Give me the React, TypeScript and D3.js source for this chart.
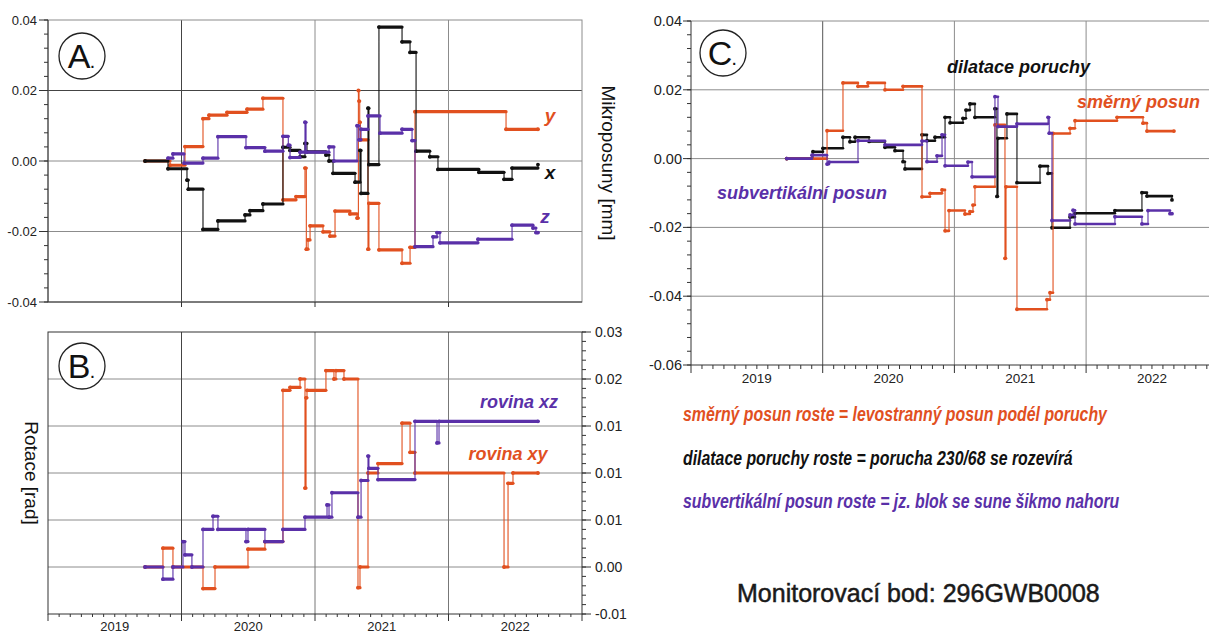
import React from "react";
import * as d3 from "d3";

type P = [number, number];

// ---------- tick labels ----------
const yearLabels = ["2019", "2020", "2021", "2022"];
const yearBounds = [2019, 2020, 2021, 2022, 2023];
const aTicks = [0.04, 0.02, 0, -0.02, -0.04];
const aTickLabels = ["0.04", "0.02", "0.00", "-0.02", "-0.04"];
const bTicks = [0.025, 0.02, 0.015, 0.01, 0.005, 0, -0.005];
const bTickLabels = ["0.03", "0.02", "0.01", "0.01", "0.01", "0.00", "-0.01"];
const cTicks = [0.04, 0.02, 0, -0.02, -0.04, -0.06];
const cTickLabels = ["0.04", "0.02", "0.00", "-0.02", "-0.04", "-0.06"];

// ---------- Panel A: micro-displacements x, y, z ----------
const aY: P[] = [
  [2019.727, 0], [2019.914, -0.0012], [2020.026, 0.0041], [2020.161, 0.012], [2020.206, 0.013],
  [2020.341, 0.0138], [2020.491, 0.0147], [2020.61, 0.0178], [2020.76, -0.011], [2020.858, -0.0101],
  [2020.925, -0.002], [2020.935, -0.025], [2020.948, -0.0224], [2020.963, -0.0184], [2021.06, -0.0201],
  [2021.112, -0.0213], [2021.15, -0.0142], [2021.262, -0.015], [2021.315, -0.0162], [2021.325, 0.02],
  [2021.33, 0.017], [2021.335, 0.011], [2021.34, 0.006], [2021.397, -0.025], [2021.404, -0.012],
  [2021.479, -0.0252], [2021.652, -0.029], [2021.712, -0.0245], [2021.749, 0.014], [2022.431, 0.009],
  [2022.67, 0.009],
];
const aX: P[] = [
  [2019.727, 0], [2019.899, -0.0022], [2020.041, -0.0054], [2020.051, -0.008], [2020.161, -0.0194],
  [2020.273, -0.017], [2020.476, -0.0153], [2020.513, -0.0141], [2020.61, -0.0122], [2020.76, 0.0039],
  [2020.813, 0.003], [2020.888, 0.0012], [2020.925, 0.005], [2020.94, 0.0026], [2021.082, 0.0017],
  [2021.105, 0], [2021.135, -0.0035], [2021.3, -0.006], [2021.337, 0.003], [2021.345, -0.0092],
  [2021.397, 0.015], [2021.404, -0.001], [2021.479, 0.038], [2021.652, 0.0338], [2021.712, 0.0308],
  [2021.757, 0.0028], [2021.86, 0.0012], [2021.921, -0.0024], [2022.228, -0.0032], [2022.416, -0.0052],
  [2022.476, -0.002], [2022.67, -0.001],
];
const aZ: P[] = [
  [2019.899, 0.0008], [2019.936, 0.002], [2020.019, -0.0006], [2020.161, 0.0008], [2020.273, 0.0069],
  [2020.483, 0.0038], [2020.625, 0.0028], [2020.76, 0.007], [2020.8, 0.0045], [2020.813, 0.001],
  [2020.888, 0.0025], [2020.925, 0.011], [2020.933, 0.0025], [2021.105, 0.004], [2021.142, 0],
  [2021.315, 0.01], [2021.33, 0.006], [2021.345, 0.009], [2021.397, 0.0128], [2021.487, 0.0079],
  [2021.652, 0.009], [2021.727, 0.0058], [2021.749, -0.0243], [2021.884, -0.0215], [2021.914, -0.0203],
  [2021.936, -0.0232], [2022.221, -0.0222], [2022.476, -0.0182], [2022.633, -0.019], [2022.655, -0.0203],
  [2022.67, -0.0203],
];

// ---------- Panel B: rotations ----------
const bXY: P[] = [
  [2019.727, 0], [2019.861, 0.002], [2019.936, 0], [2020.161, -0.0023], [2020.251, 0],
  [2020.498, 0.0019], [2020.625, 0.0027], [2020.76, 0.0188], [2020.813, 0.0191], [2020.888, 0.02],
  [2020.925, 0.0084], [2020.933, 0.018], [2020.94, 0.0188], [2021.082, 0.0209], [2021.142, 0.02],
  [2021.157, 0.0209], [2021.217, 0.02], [2021.322, -0.0022], [2021.337, 0], [2021.397, 0.01],
  [2021.472, 0.011], [2021.652, 0.0153], [2021.712, 0.0122], [2021.749, 0.01], [2022.416, 0],
  [2022.446, 0.0089], [2022.483, 0.01], [2022.67, 0.01],
];
const bXZ: P[] = [
  [2019.727, 0], [2019.861, -0.0013], [2019.936, 0], [2020.011, 0.0027], [2020.026, 0.0013],
  [2020.078, 0], [2020.161, 0.004], [2020.236, 0.0054], [2020.273, 0.004], [2020.483, 0.0027],
  [2020.498, 0.004], [2020.625, 0.0027], [2020.76, 0.004], [2020.925, 0.0053], [2021.09, 0.0066],
  [2021.105, 0.0053], [2021.127, 0.0079], [2021.322, 0.0053], [2021.345, 0.0092], [2021.397, 0.0118],
  [2021.404, 0.0105], [2021.472, 0.0093], [2021.749, 0.0155], [2021.914, 0.0132], [2021.929, 0.0155],
  [2022.67, 0.0155],
];

// ---------- Panel C: fault components ----------
const cStrike: P[] = [
  [2019.727, 0], [2020.033, 0.0081], [2020.154, 0.022], [2020.268, 0.021], [2020.344, 0.022],
  [2020.473, 0.02], [2020.61, 0.021], [2020.754, -0.0111], [2020.815, -0.0101], [2020.906, -0.0091],
  [2020.929, -0.021], [2020.959, -0.0151], [2021.08, -0.0161], [2021.118, -0.0154], [2021.141, -0.0135],
  [2021.156, -0.0082], [2021.308, 0.0098], [2021.384, -0.029], [2021.392, -0.0082], [2021.475, -0.0438],
  [2021.703, -0.041], [2021.726, -0.039], [2021.749, 0.0073], [2021.878, 0.0088], [2021.916, 0.011],
  [2022.235, 0.012], [2022.432, 0.0103], [2022.462, 0.008], [2022.667, 0.008],
];
const cDilat: P[] = [
  [2019.727, 0], [2019.926, 0.002], [2020.002, 0.003], [2020.154, 0.0062], [2020.207, 0.0049],
  [2020.246, 0.0062], [2020.352, 0.005], [2020.473, 0.0033], [2020.549, 0.0023], [2020.61, -0.0009],
  [2020.625, -0.003], [2020.754, 0.0069], [2020.792, 0.0052], [2020.853, 0.0062], [2020.929, 0.012],
  [2020.967, 0.0104], [2021.065, 0.0117], [2021.088, 0.0141], [2021.118, 0.0159], [2021.156, 0.012],
  [2021.308, 0.0145], [2021.323, -0.011], [2021.331, 0.0059], [2021.399, 0.013], [2021.475, -0.007],
  [2021.65, -0.0022], [2021.711, -0.0043], [2021.741, -0.0201], [2021.878, -0.017], [2021.916, -0.0159],
  [2022.219, -0.0151], [2022.424, -0.0099], [2022.462, -0.0109], [2022.652, -0.012],
];
const cSubv: P[] = [
  [2019.727, 0], [2019.919, 0.001], [2020.033, -0.0016], [2020.048, -0.001], [2020.268, 0.0052],
  [2020.473, 0.004], [2020.754, 0.0051], [2020.792, -0.0009], [2020.868, 0.0008], [2020.906, 0.0069],
  [2020.929, -0.0021], [2021.103, -0.001], [2021.134, -0.0053], [2021.308, 0.018], [2021.331, 0.0093],
  [2021.475, 0.0101], [2021.711, 0.012], [2021.72, 0.0074], [2021.741, -0.018], [2021.878, -0.0164],
  [2021.901, -0.015], [2021.916, -0.019], [2022.219, -0.0169], [2022.424, -0.019], [2022.47, -0.0151],
  [2022.637, -0.016], [2022.652, -0.016],
];

const ORANGE = "#e1501f";
const PURPLE = "#5a30a8";
const BLACK = "#111111";
const GRID = "#8c8c8c";
const AXIS = "#333333";
const FONT = "'Liberation Sans', Arial, Helvetica, sans-serif";

type Sc = d3.ScaleLinear<number, number>;

function Series({ data, x, y, color, thick }: { data: P[]; x: Sc; y: Sc; color: string; thick: number }) {
  const line = d3.line<P>().x((d) => x(d[0])).y((d) => y(d[1])).curve(d3.curveStepAfter);
  const segs = data.slice(0, -1).map((d, i) => [d, data[i + 1]] as [P, P]);
  return (
    <g>
      <path d={line(data) || ""} fill="none" stroke={color} strokeWidth={1.1} />
      {segs.map(([a, b], i) => (
        <line key={i} x1={x(a[0])} x2={x(b[0])} y1={y(a[1])} y2={y(a[1])} stroke={color} strokeWidth={thick} strokeLinecap="round" />
      ))}
      {data.map((d, i) => (
        <circle key={"c" + i} cx={x(d[0])} cy={y(d[1])} r={1.9} fill={color} />
      ))}
    </g>
  );
}

function Badge({ cx, cy, letter }: { cx: number; cy: number; letter: string }) {
  return (
    <g>
      <circle cx={cx} cy={cy} r={23} fill="white" stroke="#222" strokeWidth={1.3} />
      <text x={cx - 1} y={cy + 12} textAnchor="middle" fontFamily={FONT} fontSize={34} fill="#111">
        {letter}
        <tspan fontSize={14} fontWeight="bold">.</tspan>
      </text>
    </g>
  );
}

function Note({ x, y, color, children }: { x: number; y: number; color: string; children: string }) {
  return (
    <text transform={`translate(${x},${y}) scale(0.793,1)`} fontFamily={FONT} fontWeight="bold" fontStyle="italic" fontSize={20} fill={color}>
      {children}
    </text>
  );
}

export default function App() {
  const xAB = d3.scaleLinear().domain([2019, 2023]).range([48, 582]);
  const yA = d3.scaleLinear().domain([-0.04, 0.04]).range([302, 20]);
  const yB = d3.scaleLinear().domain([-0.005, 0.025]).range([614, 332]);
  const xC = d3.scaleLinear().domain([2019, 2023]).range([691, 1217.8]);
  const yC = d3.scaleLinear().domain([-0.06, 0.04]).range([365, 21]);

  const months = d3.range(0, 49).map((m) => 2019 + m / 12);
  const minorA = d3.range(-0.04, 0.0401, 0.004);
  const minorB = d3.range(-0.005, 0.02501, 0.001);
  const minorC = d3.range(-0.06, 0.0401, 0.004);
  const innerYears = [2020, 2021, 2022];

  return (
    <svg width={1209} height={633} style={{ position: "absolute", left: 0, top: 0, background: "white" }}>
      <rect x={0} y={0} width={1209} height={633} fill="white" />

      {/* ================= Panel A ================= */}
      <g>
        {aTicks.slice(1, -1).map((t) => (
          <line key={t} x1={48} x2={582} y1={yA(t)} y2={yA(t)} stroke={t === 0.02 ? "#444" : GRID} strokeWidth={1} />
        ))}
        {innerYears.map((yr) => (
          <line key={yr} x1={xAB(yr)} x2={xAB(yr)} y1={20} y2={302} stroke={yr === 2020 ? "#444" : GRID} strokeWidth={1} />
        ))}
        <rect x={48} y={20} width={534} height={282} fill="none" stroke={GRID} strokeWidth={1} />
        <line x1={48} x2={48} y1={20} y2={302} stroke={AXIS} />
        <line x1={48} x2={582} y1={302} y2={302} stroke={AXIS} />
        {minorA.map((t, i) => (
          <line key={i} x1={44} x2={48} y1={yA(t)} y2={yA(t)} stroke={AXIS} />
        ))}
        {aTicks.map((t, i) => (
          <g key={t}>
            <line x1={39} x2={48} y1={yA(t)} y2={yA(t)} stroke={AXIS} />
            <text x={37} y={yA(t)} dy="0.35em" textAnchor="end" fontFamily={FONT} fontSize={13} fill="#222">
              {aTickLabels[i]}
            </text>
          </g>
        ))}
        {yearBounds.slice(1, -1).map((yr) => (
          <line key={yr} x1={xAB(yr)} x2={xAB(yr)} y1={302} y2={307} stroke={AXIS} />
        ))}
        <Series data={aY} x={xAB} y={yA} color={ORANGE} thick={3.2} />
        <Series data={aX} x={xAB} y={yA} color={BLACK} thick={3.2} />
        <Series data={aZ} x={xAB} y={yA} color={PURPLE} thick={3.2} />
        <text x={550} y={122} textAnchor="middle" fontFamily={FONT} fontWeight="bold" fontStyle="italic" fontSize={19} fill={ORANGE}>y</text>
        <text x={550} y={179} textAnchor="middle" fontFamily={FONT} fontWeight="bold" fontStyle="italic" fontSize={19} fill={BLACK}>x</text>
        <text x={545} y={223} textAnchor="middle" fontFamily={FONT} fontWeight="bold" fontStyle="italic" fontSize={19} fill={PURPLE}>z</text>
        <Badge cx={82} cy={56} letter="A" />
        <text transform="translate(608,163) rotate(90)" textAnchor="middle" dominantBaseline="central" fontFamily={FONT} fontSize={19} fill="#111">
          Mikroposuny [mm]
        </text>
      </g>

      {/* ================= Panel B ================= */}
      <g>
        {bTicks.slice(1, -1).map((t) => (
          <line key={t} x1={48} x2={582} y1={yB(t)} y2={yB(t)} stroke={GRID} strokeWidth={1} />
        ))}
        {innerYears.map((yr) => (
          <line key={yr} x1={xAB(yr)} x2={xAB(yr)} y1={332} y2={614} stroke={yr === 2020 ? "#444" : "#777"} strokeWidth={1} />
        ))}
        <rect x={48} y={332} width={534} height={282} fill="none" stroke={AXIS} strokeWidth={1} />
        {minorB.map((t, i) => (
          <line key={i} x1={582} x2={586} y1={yB(t)} y2={yB(t)} stroke={AXIS} />
        ))}
        {bTicks.map((t, i) => (
          <g key={t}>
            <line x1={582} x2={591} y1={yB(t)} y2={yB(t)} stroke={AXIS} />
            <text x={595} y={yB(t)} dy="0.35em" textAnchor="start" fontFamily={FONT} fontSize={14} fill="#222">
              {bTickLabels[i]}
            </text>
          </g>
        ))}
        {months.map((m, i) => (
          <line key={i} x1={xAB(m)} x2={xAB(m)} y1={614} y2={i % 12 === 0 ? 621 : 617} stroke={AXIS} />
        ))}
        {yearLabels.map((l, i) => (
          <text key={l} x={xAB(yearBounds[i] + 0.5)} y={631} textAnchor="middle" fontFamily={FONT} fontSize={13} fill="#222">
            {l}
          </text>
        ))}
        <Series data={bXY} x={xAB} y={yB} color={ORANGE} thick={3.2} />
        <Series data={bXZ} x={xAB} y={yB} color={PURPLE} thick={3.2} />
        <text x={519} y={408} textAnchor="middle" fontFamily={FONT} fontWeight="bold" fontStyle="italic" fontSize={18} fill={PURPLE}>rovina xz</text>
        <text x={508} y={460} textAnchor="middle" fontFamily={FONT} fontWeight="bold" fontStyle="italic" fontSize={18} fill={ORANGE}>rovina xy</text>
        <Badge cx={82} cy={366} letter="B" />
        <text transform="translate(31,473) rotate(90)" textAnchor="middle" dominantBaseline="central" fontFamily={FONT} fontSize={19} fill="#111">
          Rotace [rad]
        </text>
      </g>

      {/* ================= Panel C ================= */}
      <g>
        {cTicks.slice(1, -1).map((t) => (
          <line key={t} x1={691} x2={1209} y1={yC(t)} y2={yC(t)} stroke={GRID} strokeWidth={1} />
        ))}
        {innerYears.map((yr) => (
          <line key={yr} x1={xC(yr)} x2={xC(yr)} y1={21} y2={365} stroke={yr === 2020 ? "#555" : GRID} strokeWidth={1} />
        ))}
        <line x1={691} x2={1209} y1={21} y2={21} stroke={GRID} />
        <line x1={691} x2={691} y1={21} y2={365} stroke={AXIS} />
        <line x1={691} x2={1209} y1={365} y2={365} stroke={AXIS} />
        {minorC.map((t, i) => (
          <line key={i} x1={687} x2={691} y1={yC(t)} y2={yC(t)} stroke={AXIS} />
        ))}
        {cTicks.map((t, i) => (
          <g key={t}>
            <line x1={683} x2={691} y1={yC(t)} y2={yC(t)} stroke={AXIS} />
            <text x={682} y={yC(t)} dy="0.35em" textAnchor="end" fontFamily={FONT} fontSize={14.5} fill="#222">
              {cTickLabels[i]}
            </text>
          </g>
        ))}
        {months.map((m, i) => (
          <line key={i} x1={xC(m)} x2={xC(m)} y1={365} y2={i % 12 === 0 ? 373 : 369} stroke={AXIS} />
        ))}
        {yearLabels.map((l, i) => (
          <text key={l} x={xC(yearBounds[i] + 0.5)} y={383} textAnchor="middle" fontFamily={FONT} fontSize={13.5} fill="#222">
            {l}
          </text>
        ))}
        <Series data={cDilat} x={xC} y={yC} color={BLACK} thick={2.6} />
        <Series data={cStrike} x={xC} y={yC} color={ORANGE} thick={2.6} />
        <Series data={cSubv} x={xC} y={yC} color={PURPLE} thick={2.6} />
        <text x={947} y={73} fontFamily={FONT} fontWeight="bold" fontStyle="italic" fontSize={18} fill={BLACK}>dilatace poruchy</text>
        <text x={1077} y={108} fontFamily={FONT} fontWeight="bold" fontStyle="italic" fontSize={18} fill={ORANGE}>směrný posun</text>
        <text x={717} y={199} fontFamily={FONT} fontWeight="bold" fontStyle="italic" fontSize={18} fill={PURPLE}>subvertikální posun</text>
        <Badge cx={723} cy={53} letter="C" />
      </g>

      {/* ================= Notes ================= */}
      <Note x={683} y={421} color={ORANGE}>směrný posun roste = levostranný posun podél poruchy</Note>
      <Note x={683} y={465} color={BLACK}>dilatace poruchy roste = porucha 230/68 se rozevírá</Note>
      <Note x={683} y={508} color={PURPLE}>subvertikální posun roste = jz. blok se sune šikmo nahoru</Note>
      <text x={737} y={602} fontFamily={FONT} fontSize={25} fill="#1a1a1a" stroke="#1a1a1a" strokeWidth={0.5}>
        Monitorovací bod: 296GWB0008
      </text>
    </svg>
  );
}
